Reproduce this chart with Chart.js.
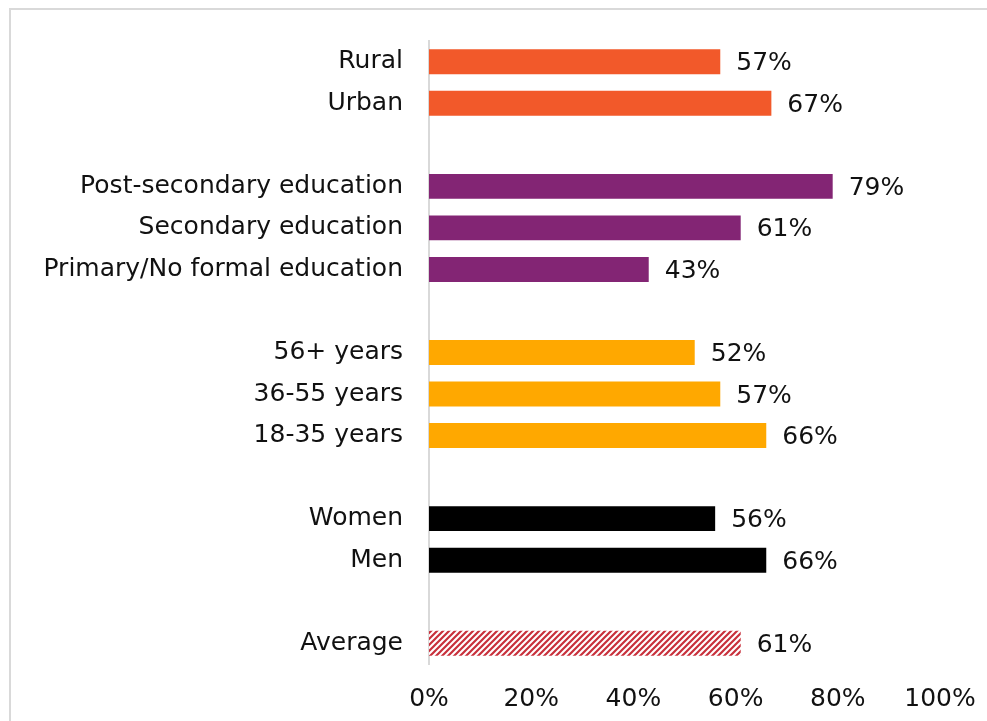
<!DOCTYPE html>
<html>
<head>
<meta charset="utf-8">
<script src="https://cdn.jsdelivr.net/npm/chart.js@4/dist/chart.umd.min.js"></script>
<style>
  html, body { margin: 0; padding: 0; background: #fff; overflow: hidden; }
  #wrap { position: relative; width: 987px; height: 721px; overflow: hidden; }
  #frame { position: absolute; left: 9px; top: 8px; right: -10px; bottom: -10px; border-top: 2px solid #d9d9d9; border-left: 2px solid #d9d9d9; }
  canvas { position: absolute; left: 0; top: 0; }
</style>
</head>
<body>
<div id="wrap">
  <div id="frame"></div>
  <canvas id="chart" width="987" height="721"></canvas>
</div>
<script>
// rows top to bottom; empty strings are spacer rows between groups
const categories = [
  'Rural', 'Urban', '',
  'Post-secondary education', 'Secondary education', 'Primary/No formal education', '',
  '56+ years', '36-55 years', '18-35 years', '',
  'Women', 'Men', '',
  'Average'
];
const values = [57, 67, null, 79, 61, 43, null, 52, 57, 66, null, 56, 66, null, 61];
const groups = ['loc', 'loc', null, 'edu', 'edu', 'edu', null, 'age', 'age', 'age', null, 'sex', 'sex', null, 'avg'];
const xTicks = [0, 20, 40, 60, 80, 100];

const FONT = '"DejaVu Sans", sans-serif';
const FONT_SIZE = 25;

function hatch(color) {
  const c = document.createElement('canvas');
  c.width = 6; c.height = 6;
  const g = c.getContext('2d');
  g.fillStyle = '#fff';
  g.fillRect(0, 0, 6, 6);
  g.strokeStyle = color;
  g.lineWidth = 2.2;
  g.beginPath();
  g.moveTo(-1, 7); g.lineTo(7, -1);
  g.moveTo(-4, 4); g.lineTo(4, -4);
  g.moveTo(2, 10); g.lineTo(10, 2);
  g.stroke();
  return g.createPattern(c, 'repeat');
}

const ctx = document.getElementById('chart').getContext('2d');

const groupColors = {
  loc: '#f2592a',
  edu: '#832574',
  age: '#ffa800',
  sex: '#000000',
  avg: hatch('#c8303b')
};

const valueLabels = {
  id: 'valueLabels',
  afterDatasetsDraw(chart) {
    const c = chart.ctx;
    const meta = chart.getDatasetMeta(0);
    c.save();
    c.font = FONT_SIZE + 'px ' + FONT;
    c.fillStyle = '#111';
    c.textAlign = 'left';
    c.textBaseline = 'middle';
    meta.data.forEach((bar, i) => {
      if (values[i] == null) return;
      c.fillText(values[i] + '%', bar.x + 16, bar.y + 2);
    });
    c.restore();
  }
};

new Chart(ctx, {
  type: 'bar',
  data: {
    labels: categories,
    datasets: [{
      data: values,
      backgroundColor: groups.map(g => g ? groupColors[g] : 'transparent'),
      barPercentage: 0.6,
      categoryPercentage: 1
    }]
  },
  options: {
    indexAxis: 'y',
    responsive: false,
    animation: false,
    layout: { padding: { top: 36, right: 47, left: 0, bottom: 0 } },
    plugins: { legend: { display: false }, tooltip: { enabled: false } },
    scales: {
      x: {
        min: 0,
        max: 100,
        afterBuildTicks: scale => { scale.ticks = xTicks.map(v => ({ value: v })); },
        afterFit: scale => {
          scale.height = 57;
          scale.paddingLeft = 0;
          scale.paddingRight = 0;
        },
        grid: { display: false, drawTicks: false },
        border: { display: false },
        ticks: {
          padding: 20,
          color: '#111',
          font: { family: FONT, size: FONT_SIZE },
          callback: v => v + '%'
        }
      },
      y: {
        afterFit: scale => { scale.width = 429; },
        grid: { display: false, drawTicks: false },
        border: { display: true, color: '#d9d9d9', width: 2 },
        ticks: {
          padding: 26,
          color: '#111',
          font: { family: FONT, size: FONT_SIZE },
          autoSkip: false
        }
      }
    }
  },
  plugins: [valueLabels]
});
</script>
</body>
</html>
